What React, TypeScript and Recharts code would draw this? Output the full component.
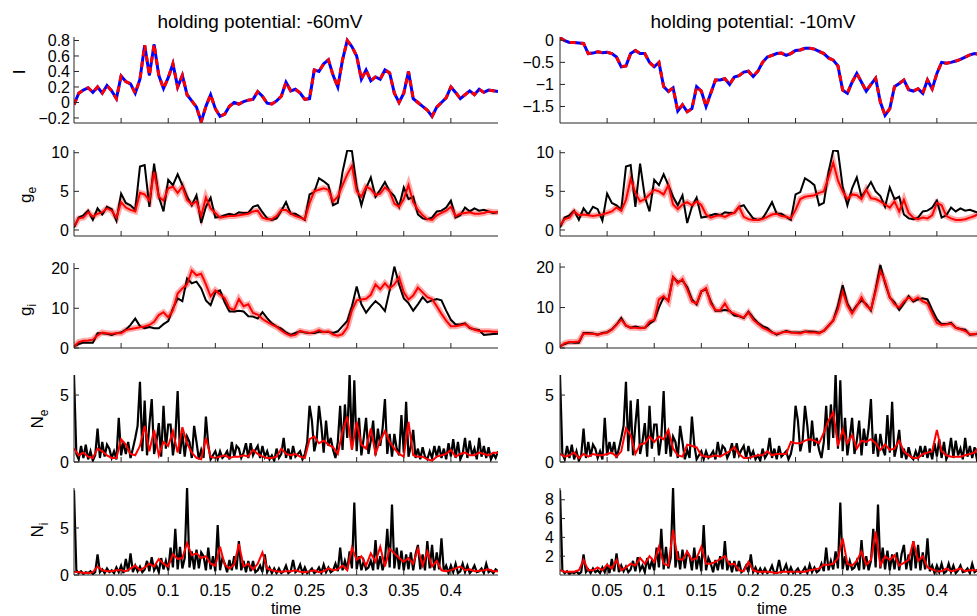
import { LineChart, Line, XAxis, YAxis } from "recharts";

const FONT = "Liberation Sans, Arial, Helvetica, sans-serif";

// sampling grids (s)
const T5 = Array.from({ length: 91 }, (_, i) => Math.round(i * 5) / 1000);
const T25 = Array.from({ length: 181 }, (_, i) => Math.round(i * 25) / 10000);

const X_TICKS = [0.05, 0.1, 0.15, 0.2, 0.25, 0.3, 0.35, 0.4];

// current, -60mV
const I_L = [
  -0.03, 0.12, 0.16, 0.19, 0.13, 0.2, 0.12, 0.22, 0.15, 0.05,
  0.34, 0.27, 0.24, 0.12, 0.3, 0.74, 0.35, 0.75, 0.35, 0.18,
  0.32, 0.5, 0.2, 0.35, 0.1, 0.02, -0.06, -0.25, -0.05, 0.1,
  -0.08, -0.18, -0.15, -0.05, 0.0, -0.02, 0.01, 0.03, 0.04, 0.14,
  0.08, -0.01, -0.02, 0.02, 0.08, 0.26, 0.15, 0.17, 0.12, 0.04,
  0.05, 0.42, 0.4, 0.5, 0.55, 0.35, 0.2, 0.55, 0.8, 0.72,
  0.6, 0.3, 0.42, 0.28, 0.33, 0.3, 0.42, 0.38, 0.12, 0.0,
  0.12, 0.4, 0.05, 0.0, -0.05, -0.1, -0.18, -0.06, 0.0, 0.06,
  0.2, 0.13, 0.05, 0.1, 0.15, 0.1, 0.17, 0.13, 0.16, 0.15, 0.14,
];

// current, -10mV
const I_R = [
  0.06, -0.01, -0.05, -0.05, -0.06, -0.07, -0.3, -0.29, -0.26, -0.28,
  -0.27, -0.3, -0.38, -0.6, -0.58, -0.3, -0.23, -0.3, -0.3, -0.5,
  -0.6, -0.5, -1.05, -1.16, -1.08, -1.6, -1.46, -1.62, -1.55, -1.05,
  -1.15, -1.5, -1.2, -0.9, -0.9, -0.87, -1.0, -0.83, -0.8, -0.72,
  -0.7, -0.82, -0.7, -0.5, -0.38, -0.34, -0.3, -0.29, -0.34, -0.3,
  -0.23, -0.22, -0.18, -0.18, -0.2, -0.25, -0.3, -0.4, -0.45, -0.58,
  -1.13, -1.2, -0.95, -0.75, -0.95, -1.15, -1.0, -0.86, -1.4, -1.7,
  -1.55, -1.05, -0.98, -0.9, -1.12, -1.15, -1.1, -1.2, -0.9, -1.1,
  -0.75, -0.5, -0.52, -0.5, -0.47, -0.43, -0.38, -0.33, -0.3, -0.32, -0.3,
];

// true excitatory conductance (black)
const GE_TRUE = [
  0.3, 1.6, 1.9, 2.5, 1.3, 2.8, 2.0, 3.0, 2.7, 1.2,
  4.7, 3.5, 3.2, 2.6, 8.2, 8.4, 3.0, 8.6, 4.3, 2.4,
  6.5, 5.8, 7.2, 5.8, 4.3, 3.2, 4.5, 0.9, 3.0, 4.2,
  1.6, 1.7, 1.9, 2.1, 1.9, 2.3, 2.2, 2.2, 3.0, 3.2,
  2.3, 1.5, 1.3, 1.5, 2.5, 3.6, 2.1, 2.1, 1.7, 1.3,
  4.6, 4.9, 6.7, 6.3, 5.8, 3.2, 3.5, 7.5, 10.3, 10.2,
  5.6, 3.2, 5.4, 6.8, 4.3, 5.2, 6.2, 5.0, 4.4, 3.0,
  5.5, 4.0, 4.3, 2.0, 1.5, 1.4, 1.6, 2.4, 2.5, 2.9,
  3.8, 1.6, 1.9, 2.9, 2.4, 2.8, 2.5, 2.6, 2.4, 2.2, 2.3,
];
const GE_EST_L = [
  0.5, 1.5, 1.6, 2.3, 1.7, 2.1, 2.3, 2.8, 2.5, 1.6,
  3.6, 2.9, 2.6, 2.4, 4.8, 4.6, 3.8, 7.5, 4.3, 3.8,
  5.4, 5.6, 4.8, 5.6, 3.9, 3.3, 3.7, 1.8, 4.2, 2.8,
  2.2, 1.6, 1.7, 1.8, 1.8, 1.9, 2.0, 2.1, 2.4, 2.5,
  1.6, 1.4, 1.4, 1.8, 2.6, 2.6, 2.1, 1.8, 1.6, 1.4,
  3.5, 5.0, 5.2, 5.4, 5.2, 3.7, 4.3, 5.8, 7.2, 8.3,
  5.0, 4.3, 5.6, 5.3, 4.5, 4.7, 5.5, 5.0, 3.4, 3.0,
  4.0, 5.8, 3.6, 2.6, 1.9, 1.4, 1.3, 1.9, 2.2, 2.5,
  3.0, 1.8, 2.1, 2.2, 2.3, 2.1, 2.1, 2.2, 2.4, 2.3, 2.3,
];
const GE_EST_R = [
  0.6, 1.4, 1.6, 2.4, 1.9, 2.0, 1.9, 1.8, 1.9, 2.0,
  2.2, 2.4, 2.9, 2.5, 3.9, 6.6, 4.8, 3.7, 4.0, 4.6,
  5.2, 5.0, 4.6, 5.8, 3.3, 2.7, 3.3, 3.6, 3.2, 3.7,
  3.2, 2.0, 1.6, 1.8, 1.9, 1.7, 2.0, 2.2, 3.0, 1.7,
  1.4, 1.3, 1.3, 1.4, 1.7, 2.0, 2.1, 1.8, 1.7, 1.5,
  2.6, 4.0, 4.3, 4.4, 4.5, 4.8, 5.0, 6.8, 8.7, 6.4,
  5.0, 4.0, 4.6, 4.5, 4.0, 5.2, 4.1, 4.0, 3.7, 3.3,
  2.9, 3.7, 2.4, 3.9, 2.2, 1.6, 1.4, 1.6, 1.5, 1.9,
  3.5, 3.2, 1.8, 1.5, 1.3, 1.3, 1.4, 1.6, 1.8, 2.2, 2.3,
];

// true inhibitory conductance (black)
const GI_TRUE = [
  0.4, 1.0, 1.4, 1.3, 1.3, 3.7, 3.7, 3.6, 3.3, 3.7,
  3.9, 4.6, 5.8, 7.4, 5.5, 5.0, 5.3, 5.0, 5.0, 6.0,
  6.8, 10.0, 12.5, 11.8, 17.5, 16.3, 16.7, 15.0, 12.0, 10.8,
  14.0, 14.5, 11.5, 9.2, 9.2, 9.4, 9.2, 8.0, 7.9, 7.4,
  9.0, 7.5, 6.2, 5.4, 4.9, 3.9, 3.3, 3.8, 4.2, 3.9,
  3.8, 3.8, 4.1, 4.1, 4.0, 3.8, 4.2, 5.5, 6.8, 10.5,
  15.5, 11.0, 8.9, 10.5, 11.8, 10.8, 9.3, 14.5, 20.5, 16.0,
  12.5, 11.3, 9.4, 11.0, 12.8, 11.5, 12.0, 12.3, 12.0, 9.4,
  7.1, 5.9, 5.9, 6.2, 5.0, 4.7, 4.5, 3.3, 3.4, 3.5, 3.6,
];
const GI_EST_L = [
  0.4, 1.5, 1.8, 1.9, 2.1, 3.2, 3.9, 3.7, 3.6, 3.7,
  3.7, 4.5, 4.8, 5.0, 5.2, 5.4, 5.8, 6.6, 8.3, 9.0,
  7.7, 9.5, 13.7, 15.0, 16.0, 19.5, 18.3, 18.7, 16.0, 13.0,
  14.5, 13.5, 12.5, 10.0, 9.6, 12.3, 10.5, 11.0, 8.8, 8.4,
  7.3, 6.6, 5.9, 5.3, 4.4, 3.6, 3.1, 3.3, 4.3, 4.0,
  3.8, 4.0, 4.5, 4.0, 4.2, 3.4, 3.1, 3.5, 5.2, 9.5,
  12.0, 12.2, 12.4, 13.4, 16.0, 14.8, 16.3, 15.0, 16.0, 17.8,
  14.0, 12.2, 13.2, 15.2, 14.0, 12.8, 12.3, 10.5, 8.6, 6.9,
  5.5, 5.5, 5.7, 6.0, 5.2, 4.6, 4.3, 4.2, 4.2, 4.1, 4.1,
];
const GI_EST_R = [
  0.3, 1.2, 1.5, 1.5, 1.6, 3.6, 3.5, 3.5, 3.3, 3.6,
  3.8, 4.5, 5.7, 7.0, 5.6, 5.0, 5.0, 4.9, 5.0, 6.5,
  7.0, 12.0, 12.8, 11.5, 17.5, 16.0, 17.0, 14.5, 11.5, 11.0,
  14.0, 14.8, 11.0, 9.4, 9.3, 11.0, 9.0, 8.5, 8.0, 7.5,
  8.8, 7.0, 6.0, 5.0, 4.5, 3.8, 3.5, 3.8, 4.0, 3.8,
  3.7, 3.6, 4.0, 3.8, 3.8, 3.6, 4.3, 5.5, 6.8, 9.5,
  14.0, 10.5, 8.5, 10.3, 12.5, 10.5, 9.5, 14.0, 19.0, 16.5,
  12.5, 10.8, 10.0, 11.5, 12.5, 11.8, 12.5, 11.5, 11.0, 8.5,
  6.2, 5.7, 5.8, 6.0, 5.0, 4.6, 4.2, 3.4, 3.4, 3.7, 3.7,
];

// true excitatory input counts (black, 2.5 ms grid)
const NE_TRUE = [
  6.5, 0.6, 0.2, 1.2, 0.3, 1.3, 0.2, 0.8, 0.1, 0.5,
  2.5, 0.3, 1.5, 0.4, 1.3, 1.0, 0.3, 0.8, 0.2, 3.3,
  0.5, 1.5, 0.6, 1.5, 0.3, 1.0, 1.8, 2.7, 6.0, 0.8,
  4.6, 0.5, 2.8, 4.7, 0.6, 1.5, 2.9, 0.4, 4.2, 1.0,
  2.8, 2.8, 0.5, 1.8, 5.3, 0.6, 2.2, 0.4, 1.9, 1.5,
  0.3, 2.7, 1.5, 0.2, 0.9, 0.3, 3.4, 1.3, 0.2, 0.5,
  0.8, 0.2, 0.8, 0.3, 0.5, 0.8, 0.2, 1.5, 0.4, 1.2,
  1.0, 0.3, 0.7, 1.4, 0.3, 1.4, 0.5, 0.9, 1.2, 0.3,
  1.2, 0.4, 0.8, 0.2, 0.5, 0.1, 1.0, 0.3, 0.6, 1.8,
  0.3, 1.0, 0.2, 1.2, 0.4, 0.6, 0.8, 0.2, 0.6, 1.5,
  4.2, 3.1, 0.8, 1.6, 4.2, 2.7, 0.7, 3.1, 1.2, 1.8,
  0.9, 0.3, 1.5, 4.2, 0.9, 4.3, 1.8, 6.6, 1.0, 6.1,
  0.8, 3.3, 0.5, 1.8, 3.3, 0.6, 1.6, 3.1, 0.5, 2.5,
  1.2, 2.5, 4.7, 0.6, 2.1, 0.4, 2.1, 1.0, 0.5, 3.5,
  0.7, 4.5, 0.4, 1.2, 2.4, 0.3, 1.0, 0.2, 1.1, 0.4,
  0.2, 0.8, 0.3, 1.2, 0.4, 1.2, 0.3, 1.0, 0.2, 1.4,
  0.4, 1.7, 0.3, 1.5, 0.2, 0.6, 1.8, 0.3, 1.6, 0.5,
  1.0, 0.2, 1.8, 0.4, 1.2, 0.3, 1.1, 0.2, 0.6, 0.3, 0.8,
];
const NE_EST_L = [
  1.0, 0.5, 0.7, 0.4, 0.3, 1.0, 0.8, 0.5, 0.3, 0.3,
  1.7, 1.3, 0.6, 0.5, 1.2, 2.7, 0.8, 2.4, 0.5, 1.5,
  1.2, 2.3, 0.7, 2.6, 1.4, 0.7, 0.3, 0.2, 1.8, 0.4,
  0.3, 0.4, 0.5, 0.3, 0.4, 0.4, 0.5, 0.4, 0.9, 0.6,
  0.4, 0.3, 0.3, 0.4, 1.0, 0.6, 0.5, 0.6, 0.4, 0.3,
  1.7, 1.9, 1.4, 1.6, 1.3, 1.1, 0.6, 2.3, 3.4, 0.9,
  3.0, 1.3, 1.0, 2.5, 0.6, 1.6, 2.3, 1.5, 1.0, 0.6,
  0.4, 3.0, 0.5, 0.4, 0.4, 0.2, 0.1, 0.4, 0.5, 0.6,
  0.9, 0.4, 0.6, 0.7, 0.5, 0.5, 0.7, 0.6, 0.5, 0.7, 0.7,
];
const NE_EST_R = [
  0.6, 0.4, 0.5, 0.7, 0.3, 0.6, 0.4, 0.6, 0.5, 0.5,
  0.6, 0.7, 0.4, 0.8, 2.5, 2.0, 0.6, 1.3, 1.4, 1.9,
  1.5, 1.9, 1.7, 2.4, 1.0, 0.5, 0.4, 1.3, 1.2, 1.1,
  0.5, 0.4, 0.4, 0.5, 0.4, 0.6, 0.8, 1.1, 0.6, 0.3,
  0.3, 0.4, 0.5, 0.5, 0.8, 0.5, 0.6, 0.6, 0.6, 1.5,
  1.4, 1.4, 1.6, 1.7, 1.6, 1.4, 2.2, 3.1, 3.7, 1.2,
  2.4, 1.4, 2.0, 1.0, 1.6, 1.5, 1.7, 1.4, 0.9, 1.3,
  0.9, 1.0, 1.6, 0.8, 0.5, 0.3, 0.3, 0.6, 0.7, 0.8,
  2.4, 0.8, 0.5, 0.4, 0.4, 0.4, 0.5, 0.6, 0.7, 1.2, 0.8,
];

// true inhibitory input counts (black, 2.5 ms grid)
const NI_TRUE = [
  9.0, 0.5, 0.2, 0.4, 0.1, 0.3, 0.2, 0.4, 0.1, 0.3,
  2.2, 0.3, 0.6, 0.2, 0.7, 0.3, 0.5, 0.2, 0.8, 0.3,
  1.0, 0.2, 1.7, 0.4, 2.3, 0.3, 1.0, 0.4, 0.9, 0.3,
  0.6, 1.5, 0.4, 1.9, 0.5, 1.0, 0.3, 1.8, 0.6, 1.5,
  0.5, 2.9, 0.8, 4.9, 0.6, 3.0, 0.7, 1.8, 9.3, 0.8,
  2.5, 0.6, 2.7, 0.7, 2.4, 2.0, 0.5, 2.9, 0.6, 2.0,
  0.4, 5.3, 0.5, 1.8, 1.2, 0.3, 1.6, 0.5, 2.0, 0.6,
  3.6, 0.5, 1.5, 0.3, 1.5, 0.4, 1.5, 0.3, 0.5, 1.0,
  0.3, 2.2, 0.3, 0.8, 0.2, 0.7, 0.2, 0.7, 0.2, 0.4,
  1.0, 0.2, 0.4, 1.6, 0.3, 0.5, 1.1, 0.2, 0.8, 0.2,
  0.4, 0.7, 0.2, 0.4, 0.8, 0.2, 1.1, 0.3, 0.8, 0.3,
  0.5, 1.2, 0.4, 2.9, 0.5, 1.5, 0.6, 2.5, 0.7, 7.7,
  0.6, 2.0, 0.5, 1.5, 0.6, 0.8, 1.5, 0.5, 3.7, 0.6,
  2.0, 0.5, 1.5, 4.9, 0.8, 7.5, 0.7, 2.9, 0.6, 2.6,
  0.5, 2.2, 0.6, 2.4, 0.5, 2.2, 3.2, 0.6, 2.2, 0.5,
  3.6, 0.7, 3.2, 0.5, 2.4, 0.6, 3.9, 0.4, 1.0, 0.2,
  1.0, 0.3, 1.2, 0.2, 0.4, 1.2, 0.3, 1.0, 0.2, 0.5,
  1.0, 0.3, 0.4, 0.7, 0.2, 1.2, 0.3, 0.5, 0.2, 0.6, 0.4,
];
const NI_EST_L = [
  0.35, 0.3, 0.25, 0.2, 0.3, 0.9, 0.5, 0.4, 0.4, 0.5,
  0.5, 0.4, 0.7, 1.0, 0.5, 0.8, 1.2, 0.9, 1.7, 1.2,
  0.9, 2.2, 1.7, 1.8, 3.4, 2.1, 2.3, 1.8, 2.0, 1.2,
  1.0, 3.0, 1.1, 0.7, 1.1, 3.3, 0.9, 1.2, 0.6, 1.2,
  2.4, 0.7, 0.5, 0.4, 0.35, 0.4, 0.4, 0.5, 0.35, 0.3,
  0.4, 0.5, 0.3, 0.4, 0.7, 0.5, 0.6, 1.0, 0.5, 2.9,
  1.6, 2.0, 1.0, 2.3, 1.4, 3.0, 0.9, 2.8, 2.3, 1.8,
  1.4, 1.8, 1.2, 2.8, 1.0, 2.5, 0.9, 1.5, 0.5, 0.4,
  0.5, 0.7, 0.9, 0.5, 0.6, 0.4, 0.45, 0.5, 0.6, 0.4, 0.4,
];
const NI_EST_R = [
  0.5, 0.35, 0.35, 0.35, 0.5, 1.6, 0.5, 0.5, 0.8, 0.5,
  1.1, 0.7, 1.6, 0.5, 0.8, 1.2, 1.0, 1.8, 1.2, 2.0,
  1.4, 3.0, 1.2, 1.0, 4.8, 1.7, 1.6, 2.5, 1.6, 1.8,
  3.0, 1.2, 1.2, 1.4, 1.7, 2.0, 1.1, 1.2, 0.5, 0.4,
  1.4, 0.5, 0.35, 0.35, 0.35, 0.3, 0.2, 0.35, 0.35, 0.35,
  0.35, 0.35, 0.35, 0.5, 0.6, 0.7, 1.1, 1.1, 1.2, 1.8,
  3.9, 1.2, 1.0, 1.5, 2.5, 1.1, 1.6, 4.6, 1.0, 2.0,
  1.6, 2.1, 1.0, 1.3, 1.6, 3.6, 1.5, 2.0, 0.8, 0.6,
  0.4, 0.4, 0.7, 0.4, 0.5, 0.7, 0.4, 0.5, 0.5, 0.5, 0.5,
];

const pts = (t: number[], v: number[]) => t.map((x, i) => ({ t: x, v: v[i] }));

type Trace = {
  id: string;
  t: number[];
  v: number[];
  color: string;
  w: number;
  dash?: string;
  op?: number;
};

const BAND = "#ff6666";

const iTraces = (id: string, v: number[]): Trace[] => [
  { id: id + "k", t: T5, v, color: "#000", w: 1.5 },
  { id: id + "b", t: T5, v, color: "#0000ff", w: 3 },
  { id: id + "r", t: T5, v, color: "#ff0000", w: 3, dash: "6 5" },
];

const gTraces = (id: string, truth: number[], est: number[]): Trace[] => [
  { id: id + "band", t: T5, v: est, color: BAND, w: 6, op: 0.55 },
  { id: id + "k", t: T5, v: truth, color: "#000", w: 2 },
  { id: id + "r", t: T5, v: est, color: "#ff0000", w: 2 },
];

const nTraces = (id: string, truth: number[], est: number[]): Trace[] => [
  { id: id + "k", t: T25, v: truth, color: "#000", w: 2.2 },
  { id: id + "r", t: T5, v: est, color: "#ff0000", w: 2 },
];

const minus = (v: number) => String(v).replace("-", "\u2212");

const TOP = 12;

const Panel = ({
  left,
  top,
  h,
  domain,
  ticks,
  traces,
  bottom,
  gap,
}: {
  left: number;
  top: number;
  h: number;
  domain: [number, number];
  ticks: number[];
  traces: Trace[];
  bottom?: boolean;
  gap: number;
}) => (
  <div style={{ position: "absolute", left, top: top - TOP }}>
    <LineChart width={498} height={h + TOP + 30} margin={{ top: TOP, right: 0, bottom: 0, left: 0 }}>
      <XAxis
        type="number"
        dataKey="t"
        domain={[0, 0.45]}
        allowDataOverflow
        ticks={X_TICKS}
        interval={0}
        height={30}
        tickSize={-5}
        tickMargin={15}
        stroke="#262626"
        tickFormatter={(v: number) => (bottom ? String(v) : "")}
        tick={{ fill: "#000", fontSize: 16, fontFamily: FONT }}
      />
      <YAxis
        type="number"
        domain={domain}
        allowDataOverflow
        ticks={ticks}
        interval={0}
        width={74}
        tickSize={-5}
        tickMargin={5 + gap}
        stroke="#262626"
        tickFormatter={minus}
        tick={{ fill: "#000", fontSize: 16, fontFamily: FONT }}
      />
      {traces.map((s) => (
        <Line
          key={s.id}
          data={pts(s.t, s.v)}
          dataKey="v"
          type="linear"
          stroke={s.color}
          strokeWidth={s.w}
          strokeDasharray={s.dash}
          strokeOpacity={s.op ?? 1}
          dot={false}
          activeDot={false}
          isAnimationActive={false}
        />
      ))}
    </LineChart>
  </div>
);

const RowLabel = ({ x, y, main, sub }: { x: number; y: number; main: string; sub?: string }) => (
  <text transform={`translate(${x},${y}) rotate(-90)`} textAnchor="middle" fontSize={17}>
    {main}
    {sub && (
      <tspan dy={5} fontSize={12}>
        {sub}
      </tspan>
    )}
  </text>
);

const App = () => {
  const L = 0;
  const R = 486;
  return (
    <div
      style={{
        position: "absolute",
        left: 0,
        top: 0,
        width: 977,
        height: 616,
        overflow: "hidden",
        background: "#fff",
        fontFamily: FONT,
      }}
    >
      <Panel left={L} gap={4} top={37} h={86} domain={[-0.265, 0.845]} ticks={[-0.2, 0, 0.2, 0.4, 0.6, 0.8]} traces={iTraces("il", I_L)} />
      <Panel left={R} gap={6} top={37} h={86} domain={[-1.874, 0.075]} ticks={[-1.5, -1, -0.5, 0]} traces={iTraces("ir", I_R)} />

      <Panel left={L} gap={5} top={150} h={86} domain={[-0.78, 10.35]} ticks={[0, 5, 10]} traces={gTraces("gel", GE_TRUE, GE_EST_L)} />
      <Panel left={R} gap={6} top={150} h={86} domain={[-0.78, 10.35]} ticks={[0, 5, 10]} traces={gTraces("ger", GE_TRUE, GE_EST_R)} />

      <Panel left={L} gap={5} top={263} h={85} domain={[0, 21.4]} ticks={[0, 10, 20]} traces={gTraces("gil", GI_TRUE, GI_EST_L)} />
      <Panel left={R} gap={6} top={263} h={85} domain={[0, 21]} ticks={[0, 10, 20]} traces={gTraces("gir", GI_TRUE, GI_EST_R)} />

      <Panel left={L} gap={5} top={375} h={87} domain={[0, 6.5]} ticks={[0, 5]} traces={nTraces("nel", NE_TRUE, NE_EST_L)} />
      <Panel left={R} gap={6} top={375} h={87} domain={[0, 6.5]} ticks={[0, 5]} traces={nTraces("ner", NE_TRUE, NE_EST_R)} />

      <Panel left={L} gap={5} top={488} h={87} domain={[0, 9.25]} ticks={[0, 5]} traces={nTraces("nil", NI_TRUE, NI_EST_L)} bottom />
      <Panel left={R} gap={6} top={488} h={87} domain={[0, 9.25]} ticks={[2, 4, 6, 8]} traces={nTraces("nir", NI_TRUE, NI_EST_R)} bottom />

      <svg
        width={977}
        height={616}
        style={{ position: "absolute", left: 0, top: 0, pointerEvents: "none" }}
        fontFamily={FONT}
      >
        <text x={260} y={28} textAnchor="middle" fontSize={19}>
          holding potential: -60mV
        </text>
        <text x={753} y={28} textAnchor="middle" fontSize={19}>
          holding potential: -10mV
        </text>
        <RowLabel x={25} y={72} main="I" />
        <RowLabel x={31} y={195} main="g" sub="e" />
        <RowLabel x={31} y={310} main="g" sub="i" />
        <RowLabel x={43} y={419} main="N" sub="e" />
        <RowLabel x={43} y={530} main="N" sub="i" />
        <text x={286} y={614} textAnchor="middle" fontSize={16}>
          time
        </text>
        <text x={772} y={614} textAnchor="middle" fontSize={16}>
          time
        </text>
      </svg>
    </div>
  );
};

export default App;
